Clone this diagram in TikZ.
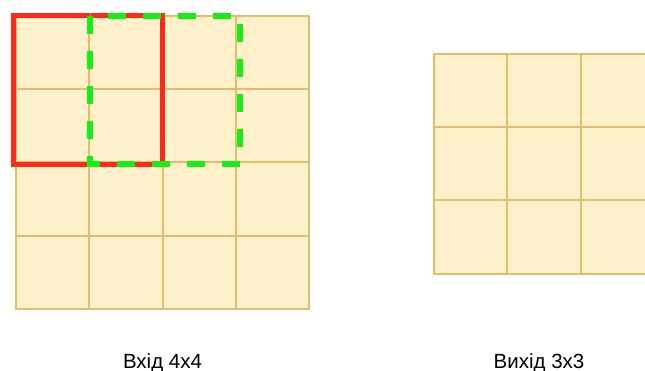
\documentclass[tikz,border=0pt]{standalone}
\usepackage{fontspec}
\setmainfont{Liberation Sans}
\definecolor{cellfill}{RGB}{255,240,204}
\definecolor{cellline}{RGB}{225,190,105}
\definecolor{redbox}{RGB}{255,40,25}
\definecolor{greenbox}{RGB}{20,240,20}
\tikzset{
  cell/.style={draw=cellline, fill=cellfill, line width=2pt, minimum size=73.25pt, inner sep=0pt, outer sep=0pt},
  redwin/.style={draw=redbox, line width=5pt},
  greenwin/.style={draw=greenbox, line width=6pt, dash pattern=on 18pt off 17pt},
  lbl/.style={font=\fontsize{20.5}{24}\selectfont, inner sep=0pt, anchor=base}
}
\begin{document}
\begin{tikzpicture}[x=1pt,y=-1pt]
\useasboundingbox (0,0) rectangle (645,371);
\clip (0,0) rectangle (645,371);
% input grid 4x4
\foreach \i in {0,...,3}{
  \foreach \j in {0,...,3}{
    \node[cell] (in\i\j) at ({16+73.25*(\i+0.5)},{16+73.25*(\j+0.5)}) {};
  }
}
% output grid 3x3
\foreach \i in {0,...,2}{
  \foreach \j in {0,...,2}{
    \node[cell] (out\i\j) at ({434+73.25*(\i+0.5)},{54+73.25*(\j+0.5)}) {};
  }
}
% windows
\coordinate (r1) at (13,15.5);
\coordinate (r2) at (162.5,164.5);
\draw[redwin] (r1) rectangle (r2);
\coordinate (g1) at (89.5,16);
\coordinate (g2) at (239.5,164);
\draw[greenwin] (g1) rectangle (g2);
% labels
\node[lbl] (lin) at (162.5,368) {Вхід 4x4};
\node[lbl] (lout) at (539,368) {Вихід 3x3};
\end{tikzpicture}
\end{document}
